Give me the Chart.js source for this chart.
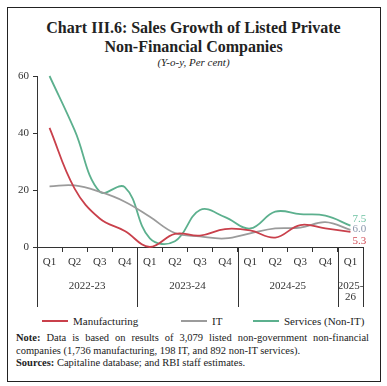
<!DOCTYPE html>
<html>
<head>
<meta charset="utf-8">
<script src="https://cdn.jsdelivr.net/npm/chart.js@4"></script>
<style>
  body { margin: 0; background: #fff; }
  #wrap { position: relative; width: 387px; height: 386px; overflow: hidden; font-family: "Liberation Serif", serif; color: #222; }
  #frame { position: absolute; left: 7px; top: 7px; width: 372px; height: 373px; border: 1px solid #222; }
  #title { position: absolute; left: 0; top: 18px; width: 387px; text-align: center; font-size: 16px; font-weight: bold; line-height: 19px; }
  #sub { position: absolute; left: 0; top: 56px; width: 387px; text-align: center; font-size: 11px; font-style: italic; }
  canvas { position: absolute; left: 0; top: 0; }
  #legend { position: absolute; left: 0; top: 315px; width: 387px; height: 16px; font-size: 11px; }
  .item { position: absolute; top: 0; white-space: nowrap; }
  .swatch { display: inline-block; width: 26px; height: 2px; vertical-align: middle; margin-right: 5px; position: relative; top: -1px; }
  #notes { position: absolute; left: 16px; top: 332px; width: 353px; font-size: 10.5px; line-height: 12.5px; }
  #notes p { margin: 0; }
  .just { text-align: justify; text-align-last: justify; }
</style>
</head>
<body>
<div id="wrap">
  <div id="frame"></div>
  <div id="title">Chart III.6: Sales Growth of Listed Private<br>Non-Financial Companies</div>
  <div id="sub">(Y-o-y, Per cent)</div>
  <canvas id="myChart" width="387" height="310"></canvas>
  <div id="legend"></div>
  <div id="notes">
    <p class="just"><b>Note:</b> Data is based on results of 3,079 listed non-government non-financial</p>
    <p>companies (1,736 manufacturing, 198 IT, and 892 non-IT services).</p>
    <p><b>Sources:</b> Capitaline database; and RBI staff estimates.</p>
  </div>
</div>
<script>
// quarters and fiscal-year groups on the x axis
const quarters = ["Q1", "Q2", "Q3", "Q4", "Q1", "Q2", "Q3", "Q4", "Q1", "Q2", "Q3", "Q4", "Q1"];
const years = ["2022-23", "2023-24", "2024-25", "2025-\n26"];
const yearSizes = [4, 4, 4, 1];

// sales growth, per cent
const manufacturing = [41.8, 20.5, 10, 5.6, 0, 4.6, 4, 6.3, 5.8, 3.3, 7.7, 6.5, 5.3];
const it = [21.3, 21.6, 19.4, 15.9, 10.6, 4.9, 3.7, 3, 4.8, 6.5, 6.8, 8.7, 6.0];
const services = [60, 41, 19.4, 21, 3, 2, 13, 10.5, 6.5, 12.4, 11.5, 11, 7.5];

const yTicks = [0, 20, 40, 60];

const series = [
  { label: "Manufacturing", data: manufacturing, color: "#c9404b", textColor: "#d04a55", dy: 9 },
  { label: "IT", data: it, color: "#9b9b9b", textColor: "#8c98ad", dy: -1 },
  { label: "Services (Non-IT)", data: services, color: "#5cb08e", textColor: "#6ec2a2", dy: -7 }
];

// legend built from the series
const legendPos = [42, 181, 253];
const legend = document.getElementById("legend");
series.forEach((s, i) => {
  let el = document.createElement("div");
  el.className = "item";
  el.style.left = legendPos[i] + "px";
  el.innerHTML = '<span class="swatch" style="background:' + s.color + '"></span>' + s.label;
  legend.appendChild(el);
});

// draws the year groups under the quarter labels
const groupAxis = {
  id: "groupAxis",
  afterDraw(chart) {
    const x = chart.scales.x;
    const ctx = chart.ctx;
    function edge(i) {
      if (i === 0) return x.left;
      if (i >= quarters.length) return x.right;
      return (x.getPixelForValue(i - 1) + x.getPixelForValue(i)) / 2;
    }
    ctx.save();
    ctx.strokeStyle = "#333";
    ctx.lineWidth = 1;
    ctx.fillStyle = "#333";
    ctx.font = "11px 'Liberation Serif'";
    ctx.textAlign = "center";
    ctx.textBaseline = "middle";
    let start = 0;
    for (let g = 0; g <= years.length; g++) {
      let px = Math.round(edge(start)) + 0.5;
      ctx.beginPath();
      ctx.moveTo(px, x.top);
      ctx.lineTo(px, 307);
      ctx.stroke();
      if (g < years.length) {
        let mid = (edge(start) + edge(start + yearSizes[g])) / 2;
        years[g].split("\n").forEach((line, k) => {
          ctx.fillText(line, mid, 286 + k * 11);
        });
        start += yearSizes[g];
      }
    }
    ctx.restore();
  }
};

// last value printed next to each line
const endLabels = {
  id: "endLabels",
  afterDatasetsDraw(chart) {
    const ctx = chart.ctx;
    ctx.save();
    ctx.font = "11px 'Liberation Serif'";
    ctx.textAlign = "left";
    ctx.textBaseline = "middle";
    series.forEach((s, i) => {
      const meta = chart.getDatasetMeta(i);
      const pt = meta.data[meta.data.length - 1];
      ctx.fillStyle = s.textColor;
      ctx.fillText(s.data[s.data.length - 1].toFixed(1), pt.x + 2, pt.y + s.dy);
    });
    ctx.restore();
  }
};

let ctx = document.getElementById("myChart").getContext("2d");
let myChart = new Chart(ctx, {
  type: "line",
  data: {
    labels: quarters,
    datasets: series.map((s) => ({
      label: s.label,
      data: s.data,
      borderColor: s.color,
      borderWidth: 1.8,
      pointRadius: 0,
      fill: false,
      tension: 0.4,
      clip: false
    }))
  },
  options: {
    responsive: false,
    devicePixelRatio: 1,
    animation: false,
    layout: { padding: { left: 0, top: 76, right: 24, bottom: 0 } },
    plugins: { legend: { display: false }, tooltip: { enabled: false } },
    scales: {
      y: {
        min: 0,
        max: 60,
        afterFit: (scale) => { scale.width = 37; },
        afterBuildTicks: (scale) => { scale.ticks = yTicks.map((v) => ({ value: v })); },
        grid: { drawOnChartArea: false, tickLength: 4, color: "#333" },
        border: { color: "#333", width: 1 },
        ticks: { color: "#333", padding: 4, font: { family: "Liberation Serif", size: 11 } }
      },
      x: {
        offset: true,
        afterFit: (scale) => { scale.height = 63; },
        grid: { offset: true, drawOnChartArea: false, tickLength: 5, color: "#333" },
        border: { color: "#333", width: 1 },
        ticks: { color: "#333", padding: 4, maxRotation: 0, autoSkip: false, font: { family: "Liberation Serif", size: 11 } }
      }
    }
  },
  plugins: [groupAxis, endLabels]
});
</script>
</body>
</html>
